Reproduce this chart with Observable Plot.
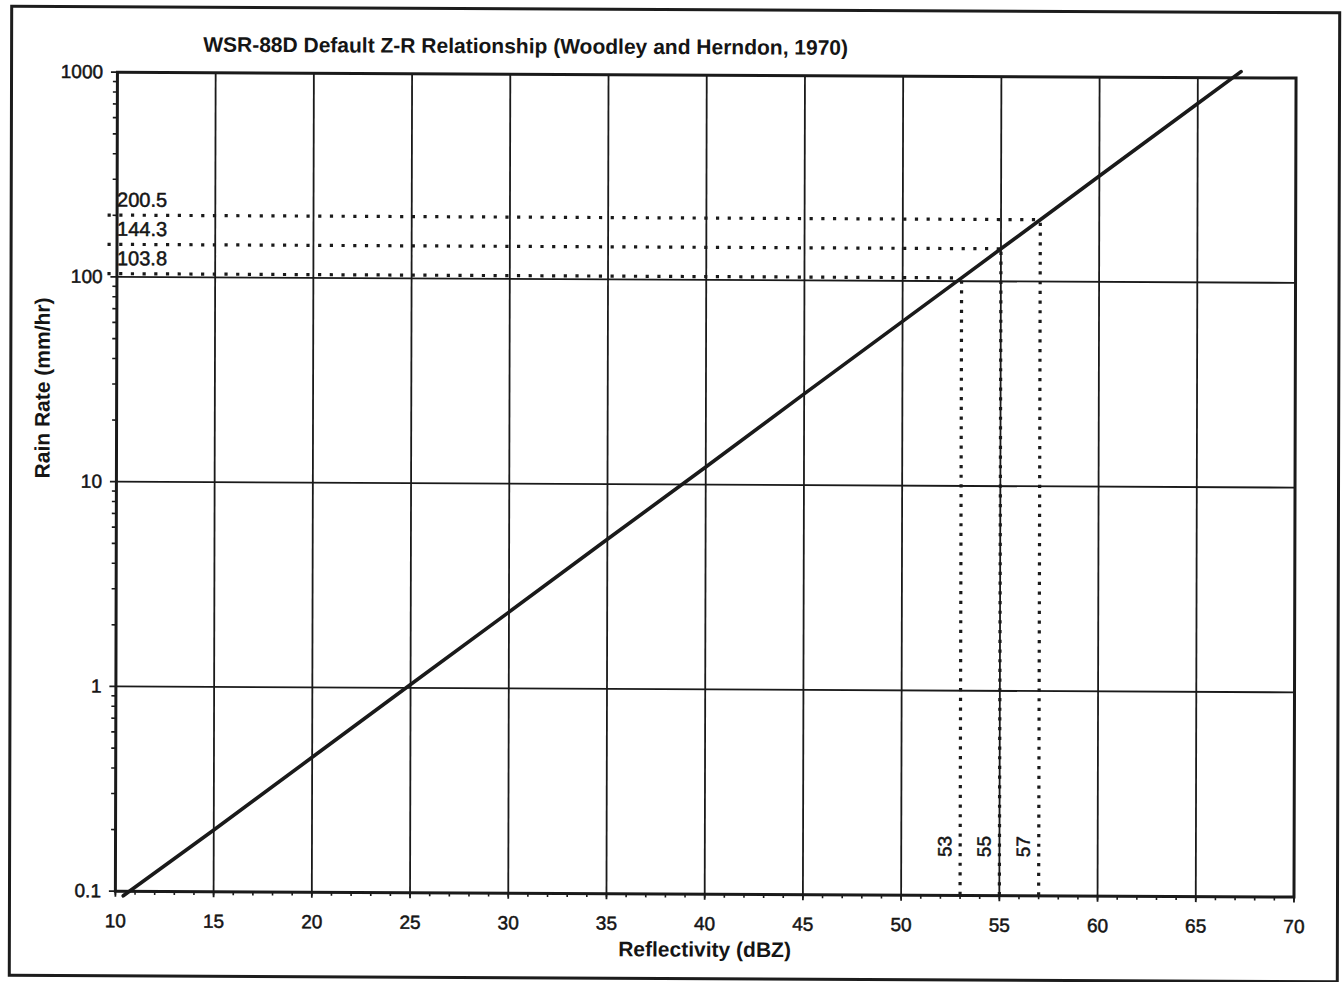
<!DOCTYPE html>
<html>
<head>
<meta charset="utf-8">
<script src="https://cdn.jsdelivr.net/npm/d3@7"></script>
<script src="https://cdn.jsdelivr.net/npm/@observablehq/plot@0.6"></script>
<style>
  html, body { margin: 0; padding: 0; background: #fff; overflow: hidden; }
  #page {
    position: relative; width: 1344px; height: 982px;
    font-family: "Liberation Sans", Arial, sans-serif; color: #151515;
    /* the printed sheet sits very slightly askew */
    transform: matrix(1, 0.005, -0.0025, 1, 0, 0);
    transform-origin: 672px 491px;
  }
  #border {
    position: absolute; left: 8.5px; top: 7.5px; width: 1331px; height: 972px;
    border: 3px solid #1c1c1c; box-sizing: border-box;
  }
  #title {
    position: absolute; left: 524.5px; top: 35.75px; transform: translateX(-50%);
    font: 700 21px/21px "Liberation Sans", Arial, sans-serif; white-space: nowrap; color: #151515;
  }
  #chart { position: absolute; left: 0; top: 0; }
  #chart text { paint-order: stroke; }
</style>
</head>
<body>
<div id="page">
  <div id="border"></div>
  <div id="title">WSR-88D Default Z-R Relationship (Woodley and Herndon, 1970)</div>
  <div id="chart"></div>
</div>
<script>
// Axis extents and ticks
const xDomain = [10, 70];
const yDomain = [0.1, 1000];
const xTicks = [10, 15, 20, 25, 30, 35, 40, 45, 50, 55, 60, 65, 70];
const xGrid = [15, 20, 25, 30, 35, 40, 45, 50, 55, 60, 65];
const yTicks = [0.1, 1, 10, 100, 1000];
const yTickLabels = ["0.1", "1", "10", "100", "1000"];
const yGrid = [1, 10, 100];
const xMinorTicks = d3.range(10, 71, 1);
const yMinorTicks = [0.2, 0.3, 0.4, 0.5, 0.6, 0.7, 0.8, 0.9,
                     2, 3, 4, 5, 6, 7, 8, 9,
                     20, 30, 40, 50, 60, 70, 80, 90,
                     200, 300, 400, 500, 600, 700, 800, 900];

// Z-R curve: reflectivity (dBZ) vs rain rate (mm/hr)
const curveDbz  = [10.4, 15, 20, 25, 30, 35, 40, 45, 50, 53, 55, 57, 60, 65, 67.2];
const curveRain = [0.095, 0.2, 0.456, 1.04, 2.36, 5.38, 12.2, 27.9, 63.4, 103.8, 144.3, 200.5, 329, 747, 1073];

// Highlighted reflectivities and their rain rates
const markDbz = [53, 55, 57];
const markRain = [103.8, 144.3, 200.5];
const markRainLabels = ["103.8", "144.3", "200.5"];
const markDbzLabels = ["53", "55", "57"];

const curve = curveDbz.map((d, i) => ({dbz: d, rain: curveRain[i]}));
const highlights = markDbz.map((d, i) => ({
  dbz: d, rain: markRain[i], rainLabel: markRainLabels[i], dbzLabel: markDbzLabels[i]
}));

const ink = "#1a1a1a";
const textInk = "#151515";
const font = "'Liberation Sans', Arial, sans-serif";

const chart = Plot.plot({
  width: 1344,
  height: 982,
  marginLeft: 115.9,
  marginRight: 49.5,
  marginTop: 74.5,
  marginBottom: 88.5,
  style: {fontFamily: font, fontSize: "19px", color: textInk, background: "transparent", overflow: "visible"},
  x: {domain: xDomain},
  y: {type: "log", domain: yDomain},
  marks: [
    Plot.ruleX(xGrid, {stroke: ink, strokeWidth: 1.8}),
    Plot.ruleY(yGrid, {stroke: ink, strokeWidth: 1.8}),
    Plot.frame({stroke: ink, strokeWidth: 3}),

    // minor ticks
    Plot.axisX(xMinorTicks, {tickSize: 4, fill: "none", label: null, stroke: ink, strokeWidth: 1.6}),
    Plot.axisY(yMinorTicks, {tickSize: 4, fill: "none", label: null, stroke: ink, strokeWidth: 1.6}),

    // major ticks and labels
    Plot.axisX(xTicks, {
      tickSize: 6, tickPadding: 16.5, label: null, stroke: ink, strokeWidth: 1.8,
      fill: textInk, fontSize: 19, tickFormat: d => String(d),
      textStroke: textInk, textStrokeWidth: 0.5
    }),
    Plot.axisY(yTicks, {
      tickSize: 6, tickPadding: 8.4, label: null, stroke: ink, strokeWidth: 1.8,
      fill: textInk, fontSize: 19, tickFormat: d => yTickLabels[yTicks.indexOf(d)],
      textStroke: textInk, textStrokeWidth: 0.5
    }),

    // dotted guides from the curve to the axes
    Plot.ruleY(highlights, {
      y: "rain", x1: () => xDomain[0], x2: "dbz", insetLeft: -9,
      stroke: ink, strokeWidth: 3.2, strokeDasharray: "3.2,8.5"
    }),
    Plot.ruleX(highlights, {
      x: "dbz", y1: () => yDomain[0], y2: "rain",
      stroke: ink, strokeWidth: 3.2, strokeDasharray: "3.2,6.5"
    }),

    // Z-R relationship
    Plot.line(curve, {x: "dbz", y: "rain", stroke: ink, strokeWidth: 3.6, strokeLinecap: "round"}),

    // rain-rate values above the dotted guides
    Plot.text(highlights, {
      x: () => xDomain[0], y: "rain", text: "rainLabel",
      textAnchor: "start", lineAnchor: "bottom", dy: -8.5, fontSize: 20, fill: textInk,
      stroke: textInk, strokeWidth: 0.5
    }),
    // reflectivity values beside the vertical guides
    Plot.text(highlights, {
      x: "dbz", text: "dbzLabel", frameAnchor: "bottom", rotate: -90,
      textAnchor: "middle", lineAnchor: "middle", dx: -15, dy: -49, fontSize: 19, fill: textInk,
      stroke: textInk, strokeWidth: 0.5
    }),

    // axis titles
    Plot.text(["Reflectivity (dBZ)"], {
      frameAnchor: "bottom", lineAnchor: "bottom", dy: 62.5,
      fontSize: 21, fontWeight: "bold", fill: textInk
    }),
    Plot.text(["Rain Rate (mm/hr)"], {
      frameAnchor: "left", rotate: -90, lineAnchor: "bottom", dx: -67, dy: -3,
      fontSize: 21, fontWeight: "bold", fill: textInk
    })
  ]
});

document.getElementById("chart").append(chart);
</script>
</body>
</html>
